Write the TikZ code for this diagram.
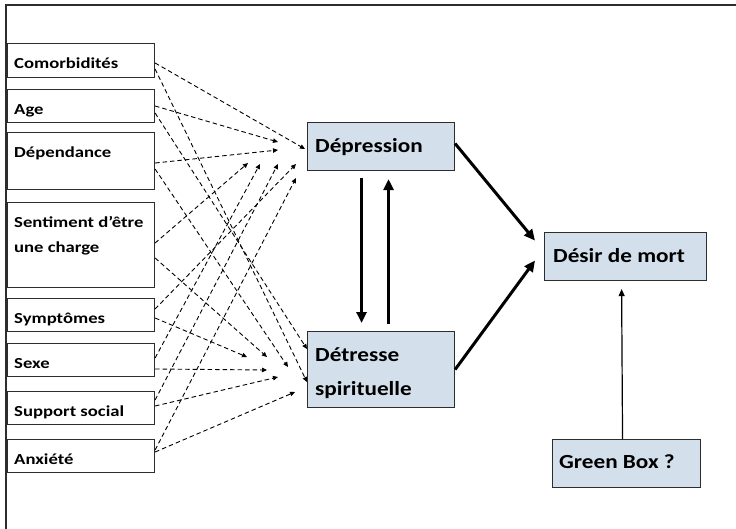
\documentclass[tikz,border=0pt]{standalone}
\usepackage{fontspec}
\setmainfont{Carlito}[FakeStretch=1.16]
\newfontfamily\leftfont{Carlito}[FakeStretch=1.22]
\usetikzlibrary{arrows.meta}
\definecolor{boxfill}{RGB}{211,223,234}
\definecolor{edge}{RGB}{45,45,45}
\begin{document}
\begin{tikzpicture}[x=1pt,y=-1pt,
  lbox/.style={draw=edge,line width=1.1pt,minimum width=147pt,anchor=north west,inner sep=0pt},
  bbox/.style={draw=edge,fill=boxfill,line width=1.1pt,anchor=north west,inner sep=0pt},
  ltext/.style={anchor=base west,inner sep=0pt,font=\leftfont\fontsize{15.3}{25}\selectfont\bfseries,align=left},
  btext/.style={anchor=base west,inner sep=0pt,font=\fontsize{20}{34}\selectfont\bfseries,align=left},
  dasharrow/.style={dashed,dash pattern=on 4.5pt off 3pt,line width=0.9pt,-{Triangle[length=5pt,width=4.5pt]}},
  thickarrow/.style={line width=3pt,-{Triangle[length=11pt,width=10pt]}},
  thinarrow/.style={line width=1.2pt,-{Triangle[length=7pt,width=6pt]}}]
\useasboundingbox (0,0) rectangle (736,528);
\draw[edge,line width=1.2pt] (6,540) -- (6,5) -- (745,5);
% left boxes
\node[lbox,minimum height=34pt] (comor) at (7,43) {};
\node[lbox,minimum height=33pt] (age) at (7,89) {};
\node[lbox,minimum height=57pt] (dep) at (7,132) {};
\node[lbox,minimum height=85pt] (sent) at (7,202) {};
\node[lbox,minimum height=33pt] (sympt) at (7,298) {};
\node[lbox,minimum height=33pt] (sexe) at (7,343) {};
\node[lbox,minimum height=33pt] (supp) at (7,391) {};
\node[lbox,minimum height=33pt] (anx) at (7,439) {};
\node[ltext] (tcomor) at (14,68) {Comorbidités};
\node[ltext] (tage) at (14,114) {Age};
\node[ltext] (tdep) at (14,157) {Dépendance};
\node[ltext] (tsent) at (14,252) {Sentiment d’être\\une charge};
\node[ltext] (tsympt) at (14,323) {Symptômes};
\node[ltext] (tsexe) at (14,368) {Sexe};
\node[ltext] (tsupp) at (14,416) {Support social};
\node[ltext] (tanx) at (14,464) {Anxiété};
% right boxes
\node[bbox,minimum width=147pt,minimum height=48pt] (depr) at (307,122) {};
\node[bbox,minimum width=147pt,minimum height=76pt] (detr) at (307,331) {};
\node[bbox,minimum width=162pt,minimum height=48pt] (desir) at (544,232) {};
\node[bbox,minimum width=148pt,minimum height=48pt] (green) at (552,439) {};
\node[btext] (tdepr) at (315,152) {Dépression};
\node[btext] (tdetr) at (315,395) {Détresse\\spirituelle};
\node[btext] (tdesir) at (553,262) {Désir de mort};
\node[btext] (tgreen) at (559,468) {Green Box ?};
% tip coordinates near Dépression
\coordinate (d1) at (305,149);
\coordinate (d2) at (278,142);
\coordinate (d3) at (278,150);
\coordinate (d4) at (248,163);
\coordinate (d5) at (296,164);
\coordinate (d6) at (260,164);
\coordinate (d7) at (278,164);
\coordinate (d8) at (296,178);
% tip coordinates near Détresse
\coordinate (s1) at (307,382);
\coordinate (s2) at (307,349);
\coordinate (s3) at (288,367);
\coordinate (s4) at (267,357);
\coordinate (s5) at (247,357);
\coordinate (s6) at (267,370);
\coordinate (s7) at (278,377);
\coordinate (s8) at (295,392);
% dashed arrows
\draw[dasharrow] ([yshift=-20pt]comor.north east) -- (d1);
\draw[dasharrow] ([yshift=-26pt]comor.north east) -- (s1);
\draw[dasharrow] ([yshift=-17pt]age.north east) -- (d2);
\draw[dasharrow] ([yshift=-24pt]age.north east) -- (s2);
\draw[dasharrow] ([yshift=-31pt]dep.north east) -- (d3);
\draw[dasharrow] ([yshift=-37pt]dep.north east) -- (s3);
\draw[dasharrow] ([yshift=-41pt]sent.north east) -- (d4);
\draw[dasharrow] ([yshift=-56pt]sent.north east) -- (s4);
\draw[dasharrow] ([yshift=-11pt]sympt.north east) -- (d5);
\draw[dasharrow] ([yshift=-20pt]sympt.north east) -- (s5);
\draw[dasharrow] ([yshift=-15pt]sexe.north east) -- (d6);
\draw[dasharrow] ([yshift=-26pt]sexe.north east) -- (s6);
\draw[dasharrow] ([yshift=-9pt]supp.north east) -- (d7);
\draw[dasharrow] ([yshift=-15pt]supp.north east) -- (s7);
\draw[dasharrow] ([yshift=-11pt]anx.north east) -- (d8);
\draw[dasharrow] ([yshift=-13pt]anx.north east) -- (s8);
% thick arrows
\draw[thickarrow,shorten <=7pt,shorten >=8pt] ([xshift=-19.5pt]depr.south) -- ([xshift=-19.5pt]detr.north);
\draw[thickarrow,shorten <=7pt,shorten >=8pt] ([xshift=7.5pt]detr.north) -- ([xshift=7.5pt]depr.south);
\draw[thickarrow] ([yshift=3pt]depr.east) -- ([xshift=-9pt,yshift=16pt]desir.west);
\draw[thickarrow] (detr.east) -- ([xshift=-9pt,yshift=-4pt]desir.west);
\draw[thinarrow,shorten >=8pt] ([xshift=-4pt]green.north) -- ([xshift=-4pt]desir.south);
\end{tikzpicture}
\end{document}
